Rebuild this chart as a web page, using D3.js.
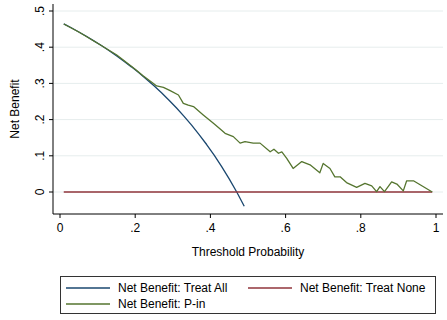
<!DOCTYPE html>
<html>
<head>
<meta charset="utf-8">
<script src="https://cdn.jsdelivr.net/npm/d3@7"></script>
<style>
  body { margin: 0; background: #fff; }
  text { font-family: Arial, "Liberation Sans", sans-serif; fill: #000; }
</style>
</head>
<body>
<script>
const WIDTH = 447;
const HEIGHT = 320;

// Umbral (threshold probability) y beneficio neto de cada estrategia
const umbralTodos = [0.01, 0.03, 0.05, 0.07, 0.09, 0.11, 0.13, 0.15, 0.17, 0.19, 0.21, 0.23, 0.25,
  0.27, 0.29, 0.31, 0.33, 0.35, 0.37, 0.39, 0.41, 0.43, 0.45, 0.47, 0.49];
const nbTodos = [0.4646, 0.4536, 0.4421, 0.4301, 0.4176, 0.4045, 0.3908, 0.3765, 0.3614, 0.3457,
  0.3291, 0.3117, 0.2933, 0.2740, 0.2535, 0.2319, 0.2090, 0.1846, 0.1587, 0.1312, 0.1017, 0.0702,
  0.0364, 0.0, -0.0392];

const umbralNinguno = [0.01, 0.99];
const nbNinguno = [0, 0];

const umbralPin = [0.01, 0.05, 0.10, 0.15, 0.17, 0.20, 0.22, 0.244, 0.257, 0.275, 0.293, 0.315, 0.328,
  0.341, 0.355, 0.381, 0.408, 0.426, 0.439, 0.461, 0.479, 0.492, 0.514, 0.532, 0.559, 0.569, 0.581,
  0.590, 0.603, 0.620, 0.643, 0.665, 0.691, 0.700, 0.718, 0.731, 0.745, 0.762, 0.789, 0.811, 0.829,
  0.842, 0.851, 0.863, 0.882, 0.896, 0.913, 0.922, 0.940, 0.99];
const nbPin = [0.464, 0.442, 0.411, 0.379, 0.363, 0.339, 0.322, 0.303, 0.293, 0.289, 0.280, 0.268, 0.245,
  0.240, 0.236, 0.213, 0.190, 0.174, 0.162, 0.153, 0.135, 0.139, 0.135, 0.135, 0.111, 0.118, 0.107,
  0.111, 0.093, 0.065, 0.084, 0.075, 0.053, 0.079, 0.065, 0.042, 0.042, 0.026, 0.013, 0.024, 0.017,
  0.001, 0.015, 0.001, 0.028, 0.022, 0.003, 0.031, 0.031, 0.0];

const ticksX = [0, 0.2, 0.4, 0.6, 0.8, 1];
const etiquetasX = ["0", ".2", ".4", ".6", ".8", "1"];
const ticksY = [0, 0.1, 0.2, 0.3, 0.4, 0.5];
const etiquetasY = ["0", ".1", ".2", ".3", ".4", ".5"];

const series = [
  { nombre: "Net Benefit: Treat All", x: umbralTodos, y: nbTodos, color: "#1a476f" },
  { nombre: "Net Benefit: Treat None", x: umbralNinguno, y: nbNinguno, color: "#90353b" },
  { nombre: "Net Benefit: P-in", x: umbralPin, y: nbPin, color: "#55752f" }
];

const SVG = d3.select("body")
  .append("svg")
  .attr("width", WIDTH)
  .attr("height", HEIGHT);

const izq = 53, der = 443, arriba = 4, abajo = 214;

const x = d3.scaleLinear().domain([0, 1]).range([60, 436]);
const y = d3.scaleLinear().domain([0, 0.5]).range([192, 11]);

// lineas de grilla
SVG.append("g")
  .selectAll("line")
  .data(ticksY)
  .join("line")
  .attr("x1", izq).attr("x2", der)
  .attr("y1", (d) => y(d)).attr("y2", (d) => y(d))
  .attr("stroke", "#e6eded")
  .attr("stroke-width", 1);

// eje Y
const ejeY = SVG.append("g").attr("transform", `translate(${izq},0)`);
ejeY.append("line")
  .attr("y1", arriba).attr("y2", abajo)
  .attr("stroke", "#000").attr("stroke-width", 1);
ejeY.selectAll(".tick")
  .data(ticksY)
  .join("line")
  .attr("x1", 0).attr("x2", -4)
  .attr("y1", (d) => y(d)).attr("y2", (d) => y(d))
  .attr("stroke", "#000");
ejeY.selectAll("text")
  .data(ticksY)
  .join("text")
  .attr("transform", (d) => `translate(-9,${y(d)}) rotate(-90)`)
  .attr("text-anchor", "middle")
  .attr("font-size", 12)
  .text((d, i) => etiquetasY[i]);

// eje X
const ejeX = SVG.append("g").attr("transform", `translate(0,${abajo})`);
ejeX.append("line")
  .attr("x1", izq).attr("x2", der)
  .attr("stroke", "#000").attr("stroke-width", 1);
ejeX.selectAll(".tick")
  .data(ticksX)
  .join("line")
  .attr("x1", (d) => x(d)).attr("x2", (d) => x(d))
  .attr("y1", 0).attr("y2", 4)
  .attr("stroke", "#000");
ejeX.selectAll("text")
  .data(ticksX)
  .join("text")
  .attr("x", (d) => x(d))
  .attr("y", 18)
  .attr("text-anchor", "middle")
  .attr("font-size", 12)
  .text((d, i) => etiquetasX[i]);

// titulos
SVG.append("text")
  .attr("x", (izq + der) / 2)
  .attr("y", 256)
  .attr("text-anchor", "middle")
  .attr("font-size", 12)
  .text("Threshold Probability");

SVG.append("text")
  .attr("transform", `translate(19,${(arriba + abajo) / 2}) rotate(-90)`)
  .attr("text-anchor", "middle")
  .attr("font-size", 12)
  .text("Net Benefit");

// curvas
const linea = d3.line().x((d) => x(d[0])).y((d) => y(d[1]));
SVG.append("g")
  .selectAll("path")
  .data(series)
  .join("path")
  .attr("d", (s) => linea(s.x.map((v, i) => [v, s.y[i]])))
  .attr("fill", "none")
  .attr("stroke", (s) => s.color)
  .attr("stroke-width", 1.3)
  .attr("stroke-linejoin", "round");

// leyenda
const leyenda = SVG.append("g");
leyenda.append("rect")
  .attr("x", 60.5).attr("y", 276.5)
  .attr("width", 375).attr("height", 37)
  .attr("fill", "#fff")
  .attr("stroke", "#333");

const posLeyenda = [[66, 288], [248, 288], [66, 304]];
const items = leyenda.selectAll("g")
  .data(series)
  .join("g")
  .attr("transform", (d, i) => `translate(${posLeyenda[i][0]},${posLeyenda[i][1]})`);
items.append("line")
  .attr("x1", 0).attr("x2", 44)
  .attr("stroke", (d) => d.color)
  .attr("stroke-width", 1.3);
items.append("text")
  .attr("x", 52)
  .attr("y", 4)
  .attr("font-size", 12)
  .text((d) => d.nombre);
</script>
</body>
</html>
